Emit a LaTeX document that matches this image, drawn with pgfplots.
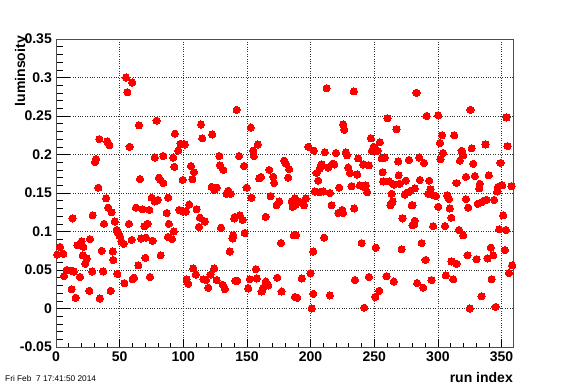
\documentclass[border=0pt]{standalone}
\usepackage{pgfplots}
\usepackage{pgfplotstable}
\pgfplotsset{compat=1.18}
\usepackage{fontspec}
\setmainfont{Liberation Sans}
\pgfplotstableread{
x y
3.1 0.080
1.0 0.070
5.8 0.071
6.3 0.042
8.4 0.050
13.0 0.117
12.3 0.049
14.1 0.048
16.8 0.082
20.1 0.087
18.8 0.041
21.5 0.080
21.0 0.069
24.1 0.065
23.0 0.058
26.7 0.090
28.5 0.048
12.3 0.025
15.4 0.014
26.2 0.023
34.5 0.013
28.8 0.121
30.6 0.190
31.5 0.194
33.3 0.157
34.0 0.220
40.3 0.217
41.9 0.212
39.3 0.143
41.1 0.131
37.7 0.110
35.9 0.075
37.2 0.048
43.7 0.125
44.5 0.074
42.9 0.023
55.0 0.300
59.9 0.2935
56.0 0.281
65.2 0.238
79.0 0.244
93.4 0.227
57.8 0.210
77.5 0.196
84.3 0.198
92.1 0.196
93.0 0.184
66.0 0.168
80.9 0.170
82.0 0.167
84.3 0.163
75.1 0.144
77.5 0.139
80.0 0.141
88.2 0.144
62.8 0.131
67.8 0.129
73.3 0.128
87.0 0.124
46.3 0.113
57.3 0.110
69.4 0.107
71.9 0.110
88.7 0.110
47.7 0.102
48.8 0.098
50.1 0.094
51.4 0.087
53.3 0.084
59.4 0.089
66.8 0.091
70.7 0.092
75.9 0.088
87.9 0.093
91.1 0.090
92.5 0.100
45.0 0.063
70.2 0.066
82.2 0.069
48.2 0.045
64.7 0.056
61.3 0.040
60.2 0.038
53.7 0.033
73.8 0.041
113.9 0.239
114.9 0.221
122.8 0.226
96.0 0.205
97.8 0.214
101.2 0.213
99.5 0.167
106.0 0.185
108.4 0.177
107.1 0.168
128.3 0.198
128.8 0.186
131.4 0.180
122.3 0.158
124.4 0.154
126.2 0.157
135.3 0.153
137.2 0.149
134.0 0.149
96.8 0.128
99.5 0.126
102.1 0.126
104.7 0.135
110.5 0.129
113.1 0.118
117.0 0.113
112.3 0.106
129.6 0.105
140.0 0.117
138.7 0.091
136.6 0.074
107.8 0.052
109.9 0.044
102.6 0.038
103.9 0.032
115.7 0.038
117.8 0.037
119.6 0.027
121.4 0.044
124.3 0.052
126.2 0.037
130.9 0.031
132.7 0.025
140.8 0.036
141.9 0.258
152.9 0.235
158.6 0.213
154.9 0.205
155.4 0.198
143.9 0.198
147.6 0.185
149.7 0.157
153.6 0.144
159.6 0.169
161.0 0.171
167.5 0.180
170.6 0.171
171.4 0.163
179.3 0.192
180.6 0.188
183.2 0.181
182.4 0.170
168.6 0.146
173.3 0.134
175.4 0.139
185.1 0.139
185.9 0.132
164.7 0.119
140.6 0.119
144.5 0.121
146.6 0.115
148.2 0.098
139.2 0.095
176.7 0.085
186.8 0.095
157.1 0.051
152.3 0.038
157.6 0.039
151.0 0.026
142.4 0.036
164.9 0.035
166.7 0.030
162.8 0.027
161.5 0.022
173.8 0.040
177.2 0.022
187.6 0.015
212.6 0.286
234.0 0.282
225.6 0.239
226.4 0.232
198.1 0.210
202.6 0.205
211.2 0.203
219.9 0.202
227.7 0.203
228.6 0.199
208.6 0.187
207.3 0.182
204.7 0.176
213.9 0.183
217.3 0.188
218.6 0.187
229.6 0.183
230.8 0.176
222.5 0.157
232.2 0.159
206.0 0.166
203.4 0.152
206.8 0.151
209.9 0.152
215.1 0.150
187.7 0.143
190.3 0.139
193.0 0.137
194.8 0.134
196.3 0.143
188.4 0.135
216.5 0.134
221.7 0.124
224.9 0.128
225.6 0.124
234.3 0.130
188.5 0.095
210.7 0.092
202.1 0.074
200.0 0.046
193.0 0.039
189.5 0.014
202.1 0.019
200.8 0.000
215.2 0.017
234.8 0.037
260.4 0.247
267.5 0.233
247.4 0.221
254.4 0.216
249.5 0.210
250.8 0.205
252.6 0.205
248.2 0.205
237.4 0.195
241.3 0.187
245.8 0.186
255.8 0.195
258.4 0.196
268.8 0.191
277.2 0.193
236.6 0.174
256.6 0.177
269.2 0.173
238.7 0.160
241.3 0.158
243.4 0.160
244.4 0.151
257.0 0.165
261.7 0.165
265.4 0.161
270.0 0.162
274.8 0.166
263.6 0.149
274.1 0.148
276.7 0.151
278.8 0.153
264.4 0.139
262.8 0.134
279.4 0.134
272.2 0.117
281.4 0.109
240.1 0.085
251.3 0.079
271.5 0.077
245.8 0.041
259.7 0.042
265.4 0.035
253.9 0.023
250.8 0.015
242.1 0.001
283.2 0.280
291.1 0.250
300.2 0.251
325.6 0.258
303.3 0.225
312.8 0.225
301.7 0.215
304.1 0.202
302.0 0.194
285.3 0.196
289.2 0.189
318.6 0.205
317.3 0.192
319.9 0.199
326.5 0.208
327.8 0.188
285.8 0.167
293.2 0.166
281.9 0.156
294.2 0.155
292.4 0.149
296.8 0.147
298.4 0.146
314.6 0.163
322.0 0.171
307.3 0.147
308.8 0.142
280.1 0.134
300.3 0.132
309.3 0.130
322.0 0.142
323.9 0.131
310.6 0.118
281.9 0.114
280.1 0.108
296.3 0.107
305.5 0.107
316.5 0.102
319.9 0.095
287.2 0.085
290.3 0.063
310.7 0.061
314.6 0.058
323.3 0.069
283.7 0.033
288.4 0.027
295.0 0.037
306.3 0.043
312.0 0.038
325.1 0.000
353.9 0.248
354.7 0.211
337.4 0.213
349.2 0.189
329.0 0.172
340.0 0.173
333.0 0.162
332.5 0.156
347.3 0.158
346.6 0.152
350.5 0.160
357.8 0.159
338.2 0.141
336.1 0.140
334.5 0.138
331.3 0.136
344.2 0.141
351.3 0.121
348.2 0.103
353.4 0.102
330.4 0.064
339.0 0.065
341.6 0.079
343.4 0.069
352.6 0.076
358.3 0.056
355.9 0.046
342.2 0.038
334.3 0.016
345.3 0.002
}\lumi
\begin{document}
\begin{tikzpicture}[x=1pt,y=1pt]
\useasboundingbox (0,0) rectangle (570,386);
\begin{axis}[
  at={(56pt,39pt)}, anchor=south west,
  scale only axis, width=457pt, height=308pt,
  xmin=0, xmax=359, ymin=-0.05, ymax=0.35,
  axis line style={black!70, line width=0.9pt},
  xtick={0,50,100,150,200,250,300,350},
  xticklabels={0,50,100,150,200,250,300,350},
  ytick={-0.05,0,0.05,0.1,0.15,0.2,0.25,0.3,0.35},
  yticklabels={-0.05,0,0.05,0.1,0.15,0.2,0.25,0.3,0.35},
  minor x tick num=4, minor y tick num=4,
  tick align=inside, tick pos=left,
  xtick style={/pgfplots/major tick length=8pt, /pgfplots/minor tick length=4pt, black, line width=0.6pt},
  ytick style={/pgfplots/major tick length=14pt, /pgfplots/minor tick length=7pt, black, line width=0.6pt},
  grid=major,
  major grid style={black!80, dotted, line width=0.6pt},
  ticklabel style={font=\fontsize{14}{14}\selectfont\bfseries},
  yticklabel style={inner sep=0pt, xshift=-4pt},
  xticklabel style={inner sep=0pt, yshift=-5pt},
]
\addplot[only marks, mark=*, mark size=3.6pt, mark options={draw=red, fill=red, line width=0pt}] table[x=x, y=y] {\lumi};
\end{axis}
\node[anchor=base east, inner sep=0pt, font=\fontsize{14}{14}\selectfont\bfseries] at (513,4) {run index};
\node[rotate=90, anchor=base east, inner sep=0pt, font=\fontsize{14}{14}\selectfont\bfseries] at (25,350) {luminsoity};
\node[anchor=base west, inner sep=0pt, font=\fontsize{8.3}{9}\selectfont] at (5,5) {Fri Feb\ \ 7 17:41:50 2014};
\end{tikzpicture}
\end{document}
